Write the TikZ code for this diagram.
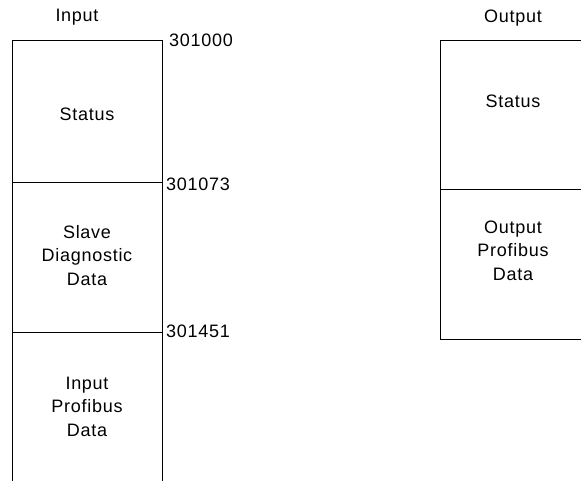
\documentclass[tikz,border=0pt]{standalone}
\usepackage{fontspec}
\setmainfont{Liberation Sans}[LetterSpace=4]
\usetikzlibrary{positioning}

\tikzset{
  area/.style={draw, line width=0.9pt, minimum width=150pt, inner sep=0pt, outer sep=0pt},
  txt/.style={font=\fontsize{18}{23.5}\selectfont, align=center, inner sep=0pt, anchor=base},
  addr/.style={font=\fontsize{18}{23.5}\selectfont, inner sep=0pt, anchor=base west}
}

\begin{document}
\begin{tikzpicture}[x=1pt, y=-1pt]
    \useasboundingbox (0,0) rectangle (581,480);
    \clip (0,0) rectangle (581,480);

    % Input block, open at the bottom
    \node[area, minimum height=142pt, anchor=north west] (inStatus) at (12,40) {};
    \node[area, minimum height=150pt, below=0pt of inStatus] (inDiag) {};
    \node[area, minimum height=150pt, below=0pt of inDiag] (inData) {};

    % Output block, runs past the right edge
    \node[area, minimum height=149pt, anchor=north west] (outStatus) at (440,40) {};
    \node[area, minimum height=150pt, below=0pt of outStatus] (outData) {};

    % Titles
    \node[txt] (inTitle) at (77,21) {Input};
    \node[txt] (outTitle) at (513,22) {Output};

    % Texts of the areas (base = last line)
    \node[txt] (inStatusTxt) at (87,120) {Status};
    \node[txt] (inDiagTxt) at (87,285) {Slave\\Diagnostic\\Data};
    \node[txt] (inDataTxt) at (87,436) {Input\\Profibus\\Data};
    \node[txt] (outStatusTxt) at (513,107) {Status};
    \node[txt] (outDataTxt) at (513,280) {Output\\Profibus\\Data};

    % Start addresses
    \node[addr] (adrStatus) at (169,46) {301000};
    \node[addr] (adrDiag) at (166,190) {301073};
    \node[addr] (adrData) at (166,337) {301451};
\end{tikzpicture}
\end{document}
